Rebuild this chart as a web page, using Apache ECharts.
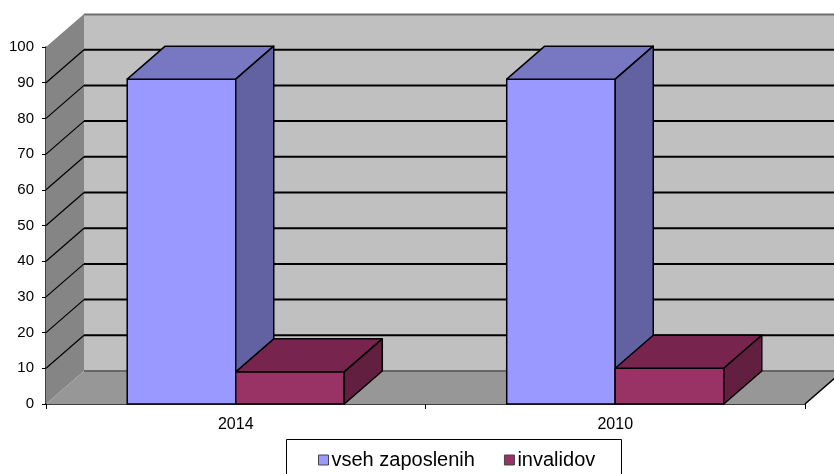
<!DOCTYPE html>
<html><head><meta charset="utf-8">
<script src="https://cdn.jsdelivr.net/npm/echarts@6/dist/echarts.min.js"></script>
<style>html,body{margin:0;padding:0;background:#fff}#c{width:834px;height:474px}</style>
</head><body><div id="c"></div>
<script>
const categories = ['2014', '2010'];
const seriesNames = ['vseh zaposlenih', 'invalidov'];
const vsehZaposlenih = [91, 91];
const invalidov = [9, 10];
const yTicks = [0, 10, 20, 30, 40, 50, 60, 70, 80, 90, 100];

const DX = 38, DY = -33;
const BAR_FRAC = 0.286;
const FONT = 'Liberation Sans, Arial, sans-serif';
const NARROW = 'Liberation Sans Narrow, Arial Narrow, Liberation Sans, sans-serif';

const faceColors = [
  { front: '#9999ff', top: '#7777c2', side: '#6262a2' },
  { front: '#993366', top: '#77244f', side: '#621f40' }
];

function backdrop(params, api) {
  const cs = params.coordSys;
  const xL = cs.x, xR = cs.x + cs.width;
  const y0 = api.coord([0, 0])[1];
  const yTop = api.coord([0, yTicks[yTicks.length - 1]])[1];
  const ch = [];
  ch.push({ type: 'polygon', shape: { points: [[xL + DX, yTop + DY], [xR + DX + 40, yTop + DY], [xR + DX + 40, y0 + DY], [xL + DX, y0 + DY]] }, style: { fill: '#c0c0c0' } });
  ch.push({ type: 'polygon', shape: { points: [[xL, y0], [xL, yTop], [xL + DX, yTop + DY], [xL + DX, y0 + DY]] }, style: { fill: '#858585' } });
  ch.push({ type: 'polygon', shape: { points: [[xL, y0], [xR, y0], [xR + DX, y0 + DY], [xL + DX, y0 + DY]] }, style: { fill: '#979797' } });
  ch.push({ type: 'line', shape: { x1: xL + DX, y1: yTop + DY + 0.5, x2: xR + DX + 40, y2: yTop + DY + 0.5 }, style: { stroke: '#707070', lineWidth: 2 } });
  ch.push({ type: 'line', shape: { x1: xL + DX, y1: y0 + DY, x2: xR + DX + 40, y2: y0 + DY }, style: { stroke: '#666666', lineWidth: 2 } });
  yTicks.forEach(v => {
    if (v === 0 || v === yTicks[yTicks.length - 1]) return;
    const y = api.coord([0, v])[1];
    ch.push({ type: 'line', shape: { x1: xL + DX, y1: y + DY, x2: xR + DX + 40, y2: y + DY }, style: { stroke: '#000', lineWidth: 2 } });
    ch.push({ type: 'line', shape: { x1: xL, y1: y, x2: xL + DX, y2: y + DY }, style: { stroke: '#000', lineWidth: 1.2 } });
  });
  ch.push({ type: 'line', shape: { x1: xR, y1: y0, x2: xR + DX, y2: y0 + DY }, style: { stroke: '#000', lineWidth: 1.5 } });
  return { type: 'group', children: ch };
}

function bar3d(params, api) {
  const cat = api.value(0), v = api.value(1);
  const base = api.coord([cat, 0]);
  const top = api.coord([cat, v]);
  const band = api.size([1, 0])[0];
  const w = band * BAR_FRAC;
  const x0 = base[0] + (params.seriesIndex === 1 ? -w : 0);
  const x1 = x0 + w;
  const yb = base[1], yt = top[1];
  const c = faceColors[params.seriesIndex - 1];
  const st = { stroke: '#000', lineWidth: 1.5, lineJoin: 'round' };
  return {
    type: 'group', children: [
      { type: 'polygon', shape: { points: [[x0, yb], [x0, yt], [x1, yt], [x1, yb]] }, style: Object.assign({ fill: c.front }, st) },
      { type: 'polygon', shape: { points: [[x0, yt], [x1, yt], [x1 + DX, yt + DY], [x0 + DX, yt + DY]] }, style: Object.assign({ fill: c.top }, st) },
      { type: 'polygon', shape: { points: [[x1, yb], [x1, yt], [x1 + DX, yt + DY], [x1 + DX, yb + DY]] }, style: Object.assign({ fill: c.side }, st) }
    ]
  };
}

const chart = echarts.init(document.getElementById('c'));
chart.setOption({
  animation: false,
  backgroundColor: '#fff',
  textStyle: { fontFamily: FONT },
  grid: { left: 46, right: 29, top: 47, bottom: 70, containLabel: false },
  xAxis: {
    type: 'category', data: categories,
    axisLine: { show: true, lineStyle: { color: '#000', width: 1.5 } },
    axisTick: { show: true, length: 5, lineStyle: { color: '#000' } },
    axisLabel: { color: '#000', fontSize: 16, margin: 13, fontFamily: FONT },
    splitLine: { show: false }
  },
  yAxis: {
    type: 'value', min: 0, max: 100, interval: 10,
    axisLine: { show: true, lineStyle: { color: '#000', width: 1.5 } },
    axisTick: { show: true, length: 4, lineStyle: { color: '#000' } },
    axisLabel: { color: '#000', fontSize: 15, margin: 12, fontFamily: NARROW },
    splitLine: { show: false }
  },
  legend: {
    data: seriesNames,
    left: 318, top: 450, padding: 0,
    itemWidth: 10, itemHeight: 10, itemGap: 29,
    icon: 'rect',
    textStyle: { color: '#000', fontSize: 20, fontFamily: FONT, padding: [0, 0, 0, -2] },
    itemStyle: { borderColor: '#444', borderWidth: 1 }
  },
  graphic: [{ type: 'rect', shape: { x: 286.5, y: 439.5, width: 335, height: 60 }, style: { fill: 'none', stroke: '#000', lineWidth: 1 }, z: 100 }],
  series: [
    { type: 'custom', name: 'backdrop', renderItem: backdrop, data: [[0, 0]], z: 1, silent: true },
    { type: 'custom', name: seriesNames[0], renderItem: bar3d, data: vsehZaposlenih.map((v, i) => [i, v]), encode: { x: 0, y: 1 }, itemStyle: { color: faceColors[0].front }, z: 2 },
    { type: 'custom', name: seriesNames[1], renderItem: bar3d, data: invalidov.map((v, i) => [i, v]), encode: { x: 0, y: 1 }, itemStyle: { color: faceColors[1].front }, z: 3 }
  ]
});
</script></body></html>
